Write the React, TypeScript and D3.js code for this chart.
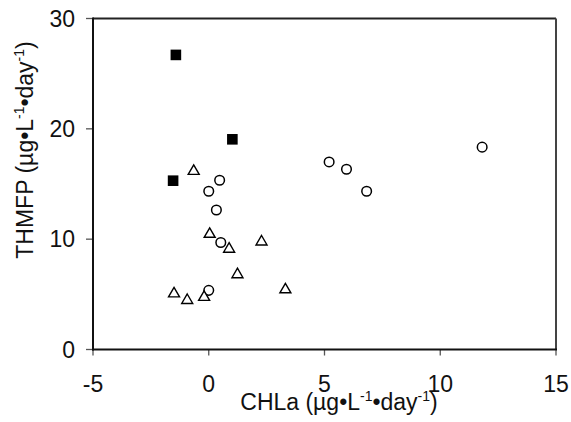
import React from "react";
import * as d3 from "d3";

const squareX = [-1.42, 1.02, -1.54];
const squareY = [26.7, 19.05, 15.3];

const circleX = [0.47, 0.0, 0.33, 0.52, 0.0, 5.2, 5.95, 6.82, 11.81];
const circleY = [15.34, 14.34, 12.64, 9.7, 5.36, 17.0, 16.34, 14.34, 18.34];

const triX = [-0.65, 0.04, 0.88, 2.28, 1.24, 3.31, -1.5, -0.93, -0.2];
const triY = [16.3, 10.6, 9.25, 9.9, 6.94, 5.57, 5.2, 4.6, 4.88];

const xTicks = [-5, 0, 5, 10, 15];
const yTicks = [0, 10, 20, 30];

const FONT = "Arial, 'Liberation Sans', sans-serif";

export default function App() {
  const W = 571, H = 422;
  const x = d3.scaleLinear().domain([-5, 15]).range([93, 556]);
  const y = d3.scaleLinear().domain([0, 30]).range([349.5, 18.5]);
  const [x0, x1] = x.range();
  const [y0, y1] = y.range();
  const tri = (cx: number, cy: number) => {
    const w = 11, h = 9.5;
    return `M${cx},${cy - h / 2}L${cx + w / 2},${cy + h / 2}L${cx - w / 2},${cy + h / 2}Z`;
  };
  return (
    <svg width={W} height={H} style={{ position: "absolute", left: 0, top: 0, background: "#fff" }} fontFamily={FONT}>
      {/* ticks */}
      {yTicks.map((t) => (
        <line key={"yt" + t} x1={x0 - 7} x2={x0} y1={y(t)} y2={y(t)} stroke="#555" strokeWidth={1.3} />
      ))}
      {xTicks.map((t) => (
        <line key={"xt" + t} x1={x(t)} x2={x(t)} y1={y0} y2={y0 + 6} stroke="#555" strokeWidth={1.3} />
      ))}
      {/* frame */}
      <line x1={x0} x2={x1} y1={y1} y2={y1} stroke="#222" strokeWidth={2} />
      <line x1={x1} x2={x1} y1={y1} y2={y0} stroke="#444" strokeWidth={2} />
      <line x1={x0} x2={x0} y1={y1 - 1} y2={y0 + 1} stroke="#111" strokeWidth={2} />
      <line x1={x0 - 1} x2={x1 + 1} y1={y0} y2={y0} stroke="#111" strokeWidth={2} />
      {/* tick labels */}
      {yTicks.map((t) => (
        <text key={"yl" + t} x={75} y={y(t)} dy="0.36em" textAnchor="end" fontSize={23} fill="#111">
          {t}
        </text>
      ))}
      {xTicks.map((t) => (
        <text key={"xl" + t} x={x(t)} y={392} textAnchor="middle" fontSize={23} fill="#111">
          {t < 0 ? "-" + Math.abs(t) : String(t)}
        </text>
      ))}
      {/* axis titles */}
      <text x={339} y={410} textAnchor="middle" fontSize={23} fill="#111">
        CHLa (µg•L<tspan fontSize={14} dy={-9}>-1</tspan>
        <tspan dy={9}>•day</tspan>
        <tspan fontSize={14} dy={-9}>-1</tspan>
        <tspan dy={9}>)</tspan>
      </text>
      <text transform="translate(33,150) rotate(-90)" textAnchor="middle" fontSize={23} fill="#111">
        THMFP (µg•L<tspan fontSize={14} dy={-9}>-1</tspan>
        <tspan dy={9}>•day</tspan>
        <tspan fontSize={14} dy={-9}>-1</tspan>
        <tspan dy={9}>)</tspan>
      </text>
      {/* markers */}
      {squareX.map((v, i) => (
        <rect key={"s" + i} x={x(v) - 5.3} y={y(squareY[i]) - 5.3} width={10.6} height={10.6} fill="#000" />
      ))}
      {circleX.map((v, i) => (
        <circle key={"c" + i} cx={x(v)} cy={y(circleY[i])} r={4.8} fill="#fff" stroke="#000" strokeWidth={1.5} />
      ))}
      {triX.map((v, i) => (
        <path key={"t" + i} d={tri(x(v), y(triY[i]))} fill="#fff" stroke="#000" strokeWidth={1.4} strokeLinejoin="miter" />
      ))}
    </svg>
  );
}
